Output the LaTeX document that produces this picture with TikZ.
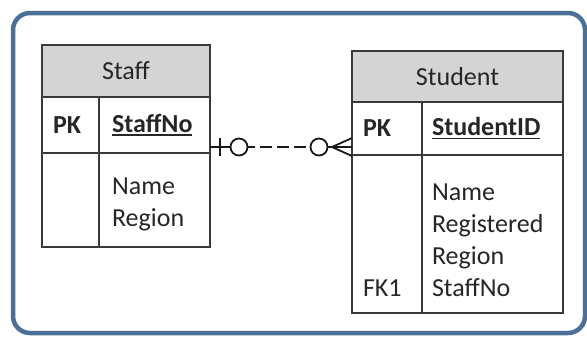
\documentclass[tikz,border=0pt]{standalone}
\usepackage{fontspec}
\setmainfont{Carlito}
\usetikzlibrary{positioning,calc}
\definecolor{cFrame}{RGB}{74,112,152}
\definecolor{cLine}{RGB}{58,58,58}
\definecolor{cHead}{RGB}{212,212,212}
\definecolor{cText}{RGB}{38,38,38}
\newcommand{\erfont}{\fontsize{26}{32}\selectfont}
\newcommand{\ukey}[1]{\setbox0\hbox{\bfseries #1}\rlap{\rule[-3.5pt]{\wd0}{1.8pt}}\box0}
\tikzset{
    cell/.style={rectangle, draw=cLine, line width=1.8pt, outer sep=0pt,
        inner sep=0pt, anchor=north west},
    head/.style={cell, fill=cHead},
    txt/.style={inner sep=0pt, outer sep=0pt, text=cText, align=left,
        anchor=north west},
    keytxt/.style={txt, font=\erfont\bfseries, anchor=west},
    rel/.style={draw=black!90, line width=1.8pt},
    frame/.style={draw=cFrame, line width=4.5pt, rounded corners=17pt},
}
\begin{document}
\begin{tikzpicture}[x=1pt, y=-1pt, font=\erfont, text=cText]
\useasboundingbox (0,0) rectangle (587,338);

% ================================================================
%  FRAME
% ================================================================
\draw[frame] (13,13) rectangle (585,333);

% ================================================================
%  STAFF entity
% ================================================================
\node[head, minimum width=168pt, minimum height=52pt] (staff) at (42,45) {Staff};
\node[cell, minimum width=57pt, minimum height=56pt] (staffpk) at (staff.south west) {};
\node[cell, minimum width=111pt, minimum height=56pt] (staffno) at (staffpk.north east) {};
\node[cell, minimum width=57pt, minimum height=94pt] (staffkeys) at (staffpk.south west) {};
\node[cell, minimum width=111pt, minimum height=94pt] (staffattr) at (staffkeys.north east) {};

\node[keytxt, right=11pt of staffpk.west] (staffpktxt) {PK};
\node[keytxt, right=13pt of staffno.west] (staffnotxt) {\ukey{StaffNo}};
\node[txt, below right=25pt and 13pt of staffattr.north west] (stafftxt)
    {Name\\Region};

% ================================================================
%  STUDENT entity
% ================================================================
\node[head, minimum width=211pt, minimum height=51pt] (student) at (352,51) {Student};
\node[cell, minimum width=70pt, minimum height=53pt] (studpk) at (student.south west) {};
\node[cell, minimum width=141pt, minimum height=53pt] (studid) at (studpk.north east) {};
\node[cell, minimum width=70pt, minimum height=158pt] (studkeys) at (studpk.south west) {};
\node[cell, minimum width=141pt, minimum height=158pt] (studattr) at (studkeys.north east) {};

\node[keytxt, right=11pt of studpk.west] (studpktxt) {PK};
\node[keytxt, right=10pt of studid.west] (studidtxt) {\ukey{StudentID}};
\node[txt, below right=29pt and 10pt of studattr.north west] (studtxt)
    {Name\\Registered\\Region\\StaffNo};
\node[txt, anchor=south west] (studfktxt)
    at ($(studkeys.west |- studtxt.south)+(11,0)$) {FK1};

% ================================================================
%  RELATIONSHIP  Staff (zero or one) -- Student (zero or many)
% ================================================================
\coordinate (relL) at ($(staffno.south east)+(0,-6)$);
\coordinate (relR) at (studpk.west |- relL);
\coordinate (ringL) at ($(relL)+(29,0)$);
\coordinate (ringR) at ($(relR)+(-33,0)$);

\draw[rel] (relL) -- ($(ringL)+(16,0)$);
\draw[rel, dash pattern=on 12pt off 5pt, dash phase=12pt]
    ($(ringL)+(16,0)$) -- (ringR);
\draw[rel] (ringR) -- (relR);
\draw[rel, fill=white] (ringL) circle (8.5);
\draw[rel, fill=white] (ringR) circle (8.5);
% one bar
\draw[rel] ($(relL)+(10,-9)$) -- ($(relL)+(10,9)$);
% crow's foot
\draw[rel] ($(relR)+(0,-9)$) -- ($(relR)+(-20,0)$) -- ($(relR)+(0,9)$);

\end{tikzpicture}
\end{document}
